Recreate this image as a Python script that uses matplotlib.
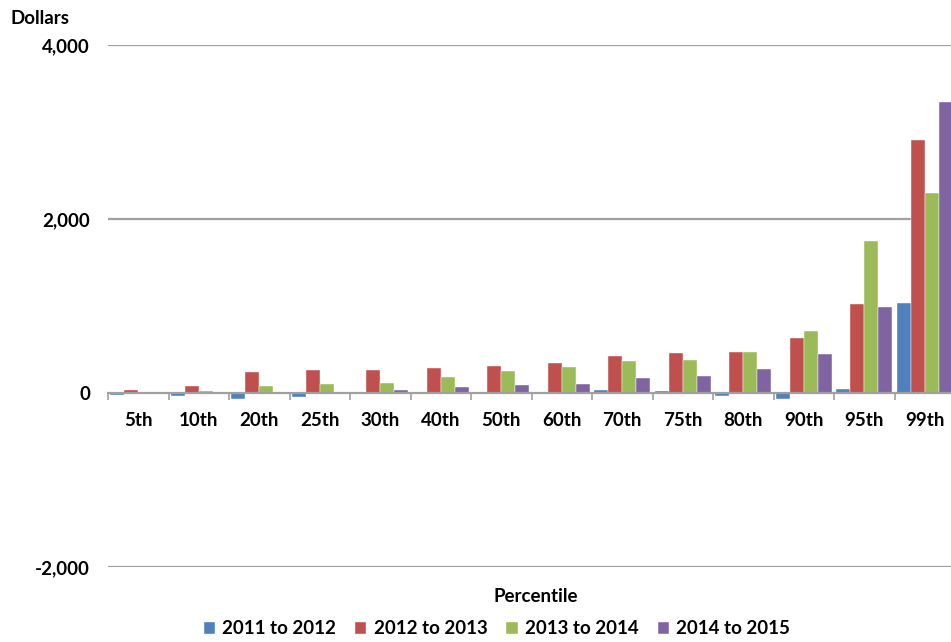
import numpy as np
import matplotlib
matplotlib.use("Agg")
import matplotlib.pyplot as plt

plt.rcParams['font.family'] = ['Lato', 'DejaVu Sans']

percentiles = ["5th", "10th", "20th", "25th", "30th", "40th", "50th",
               "60th", "70th", "75th", "80th", "90th", "95th", "99th"]
series_names = ["2011 to 2012", "2012 to 2013", "2013 to 2014", "2014 to 2015"]

chg_2011_2012 = [-20, -38, -69, -50, 2, 15, 3, 15, 39, 23, -30, -69, 51, 1031]
chg_2012_2013 = [35, 84, 245, 268, 268, 285, 311, 350, 423, 458, 469, 634, 1019, 2913]
chg_2013_2014 = [12, 23, 84, 107, 119, 189, 250, 296, 373, 385, 469, 708, 1749, 2294]
chg_2014_2015 = [3, 8, -15, 2, 39, 74, 89, 100, 173, 200, 273, 446, 991, 3340]

colors = ["#4F81BD", "#C0504D", "#9BBB59", "#8064A2"]
y_ticks = [-2000, 0, 2000, 4000]
fs = 13.5

fig = plt.figure(figsize=(9.51, 6.42), dpi=100)
ax = fig.add_axes([108 / 951, (642 - 567) / 642, 847 / 951, (567 - 45) / 642])

x = np.arange(len(percentiles))
width = 0.232
all_series = [chg_2011_2012, chg_2012_2013, chg_2013_2014, chg_2014_2015]
for i, (vals, name, c) in enumerate(zip(all_series, series_names, colors)):
    ax.bar(x + (i - 1.5) * width, vals, width, color=c, label=name,
           edgecolor="white", linewidth=0.3, zorder=3)

ax.set_xlim(-0.5, len(percentiles) - 0.5)
ax.set_ylim(-2000, 4000)

# horizontal gridlines
for v in y_ticks:
    if v != 0:
        ax.axhline(v, color="#A0A0A0", linewidth=1.6, zorder=1)

for s in ["top", "right", "left"]:
    ax.spines[s].set_visible(False)
ax.spines["bottom"].set_position(("data", 0))
ax.spines["bottom"].set_color("#A0A0A0")
ax.spines["bottom"].set_linewidth(1.6)
ax.spines["bottom"].set_zorder(4)

ax.set_yticks(y_ticks)
ax.set_yticklabels([f"{v:,}" for v in y_ticks], fontsize=fs, fontweight="bold")
ax.tick_params(axis="y", length=0, pad=13)

ax.set_xticks(x)
ax.set_xticklabels(percentiles, fontsize=fs, fontweight="bold")
ax.set_xticks(np.arange(len(percentiles) + 1) - 0.5, minor=True)
ax.tick_params(axis="x", which="major", length=0, pad=14)
ax.tick_params(axis="x", which="minor", length=5, color="#A0A0A0", width=1.2)

fig.text(10 / 951, 1 - 18 / 642, "Dollars", fontsize=fs, fontweight="bold",
         ha="left", va="center")
fig.text(536 / 951, 1 - 597 / 642, "Percentile", fontsize=fs, fontweight="bold",
         ha="center", va="center")

fig.legend(loc="center", bbox_to_anchor=(497 / 951, 1 - 629 / 642), ncol=4,
           frameon=False, prop={"size": fs, "weight": "bold"},
           handlelength=0.6, handleheight=0.6, handletextpad=0.4,
           columnspacing=1.0)

fig.savefig("out.png", dpi=100)
